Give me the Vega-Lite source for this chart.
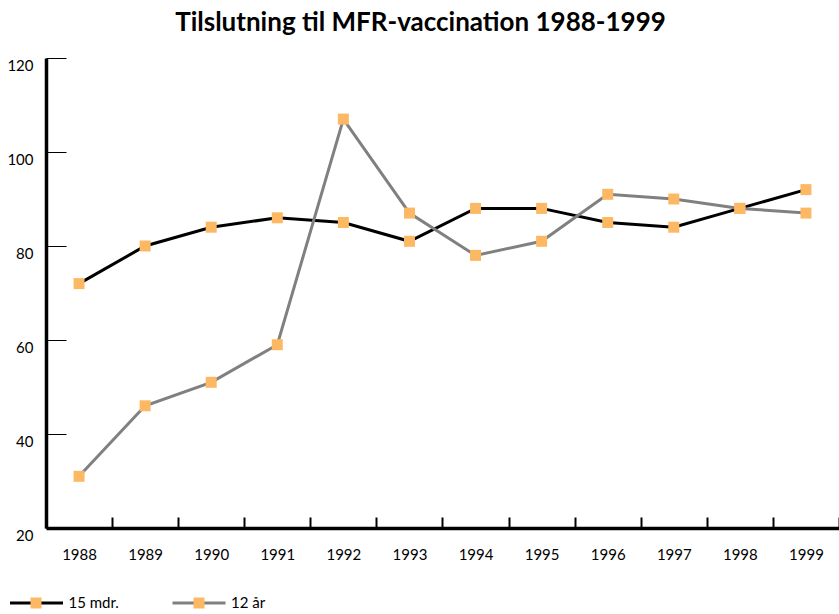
{
  "$schema": "https://vega.github.io/schema/vega-lite/v6.json",
  "width": 793,
  "height": 470,
  "autosize": {"type": "none"},
  "padding": {"left": 46, "top": 58, "right": 0, "bottom": 86},
  "background": "white",
  "config": {"font": "Lato", "view": {"stroke": null}},
  "title": {
    "text": "Tilslutning til MFR-vaccination 1988-1999",
    "fontSize": 26,
    "fontWeight": "bold",
    "font": "Lato",
    "anchor": "middle",
    "frame": "group",
    "dx": -22,
    "offset": 22,
    "color": "black"
  },
  "data": {
    "values": [
      {"year": 1988, "series": "15 mdr.", "value": 72},
      {"year": 1989, "series": "15 mdr.", "value": 80},
      {"year": 1990, "series": "15 mdr.", "value": 84},
      {"year": 1991, "series": "15 mdr.", "value": 86},
      {"year": 1992, "series": "15 mdr.", "value": 85},
      {"year": 1993, "series": "15 mdr.", "value": 81},
      {"year": 1994, "series": "15 mdr.", "value": 88},
      {"year": 1995, "series": "15 mdr.", "value": 88},
      {"year": 1996, "series": "15 mdr.", "value": 85},
      {"year": 1997, "series": "15 mdr.", "value": 84},
      {"year": 1998, "series": "15 mdr.", "value": 88},
      {"year": 1999, "series": "15 mdr.", "value": 92},
      {"year": 1988, "series": "12 år", "value": 31},
      {"year": 1989, "series": "12 år", "value": 46},
      {"year": 1990, "series": "12 år", "value": 51},
      {"year": 1991, "series": "12 år", "value": 59},
      {"year": 1992, "series": "12 år", "value": 107},
      {"year": 1993, "series": "12 år", "value": 87},
      {"year": 1994, "series": "12 år", "value": 78},
      {"year": 1995, "series": "12 år", "value": 81},
      {"year": 1996, "series": "12 år", "value": 91},
      {"year": 1997, "series": "12 år", "value": 90},
      {"year": 1998, "series": "12 år", "value": 88},
      {"year": 1999, "series": "12 år", "value": 87}
    ]
  },
  "encoding": {
    "x": {
      "field": "year",
      "type": "ordinal",
      "scale": {"paddingInner": 0, "paddingOuter": 0},
      "axis": {
        "title": null,
        "labelAngle": 0,
        "tickBand": "extent",
        "tickSize": -11,
        "tickWidth": 2,
        "tickColor": "black",
        "domainColor": "black",
        "domainWidth": 3.5,
        "labelPadding": 30,
        "labelFontSize": 15,
        "labelColor": "black",
        "labelFont": "Lato",
        "grid": false
      }
    },
    "y": {
      "field": "value",
      "type": "quantitative",
      "scale": {"domain": [20, 120]},
      "axis": {
        "title": null,
        "values": [20, 40, 60, 80, 100, 120],
        "tickSize": -20,
        "tickWidth": 1,
        "tickColor": "black",
        "domainColor": "black",
        "domainWidth": 3.5,
        "labelPadding": 33,
        "labelFontSize": 15,
        "labelColor": "black",
        "labelFont": "Lato",
        "labelBaseline": "middle",
        "labelOffset": 7,
        "labelFlush": false,
        "grid": false
      }
    }
  },
  "layer": [
    {
      "mark": {"type": "line", "strokeWidth": 3},
      "encoding": {
        "stroke": {
          "field": "series",
          "type": "nominal",
          "scale": {"domain": ["15 mdr.", "12 år"], "range": ["#000000", "#808080"]},
          "legend": {
            "title": null,
            "orient": "none",
            "legendX": -37.5,
            "legendY": 517,
            "direction": "horizontal",
            "symbolType": "stroke",
            "symbolSize": 2809,
            "symbolStrokeWidth": 3,
            "labelFontSize": 15,
            "labelFont": "Lato",
            "labelColor": "black",
            "labelOffset": 4,
            "columnPadding": 46.5
          }
        }
      }
    },
    {
      "mark": {"type": "point", "shape": "square", "filled": true, "size": 121, "color": "#FDB863", "opacity": 1},
      "encoding": {
        "shape": {
          "field": "series",
          "type": "nominal",
          "sort": ["15 mdr.", "12 år"],
          "scale": {"range": ["square", "square"]},
          "legend": {
            "title": null,
            "orient": "none",
            "legendX": -15.5,
            "legendY": 539.5,
            "direction": "horizontal",
            "symbolSize": 121,
            "symbolFillColor": "#FDB863",
            "symbolStrokeWidth": 0,
            "symbolOpacity": 1,
            "labelExpr": "''",
            "labelOffset": 0,
            "columnPadding": 152
          }
        }
      }
    }
  ]
}
